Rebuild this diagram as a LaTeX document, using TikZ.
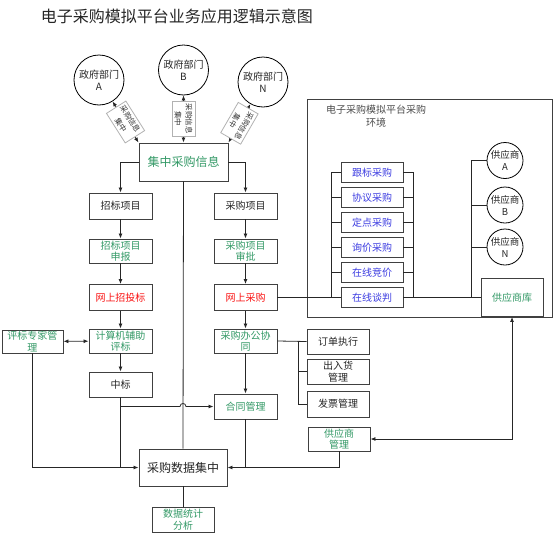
\documentclass[tikz,border=0pt]{standalone}
\usepackage{fontspec}
\setmainfont{Noto Sans CJK SC}
\usetikzlibrary{arrows.meta}
\definecolor{tgreen}{RGB}{51,153,102}
\definecolor{tred}{RGB}{250,20,20}
\definecolor{tblue}{RGB}{60,60,225}
\definecolor{bord}{RGB}{64,64,64}
\begin{document}
\begin{tikzpicture}[x=1pt,y=-1pt,
  box/.style={draw=bord, line width=0.95pt, fill=white, minimum width=63pt, minimum height=25pt, inner sep=1pt, align=center, font=\fontsize{10}{11.5}\selectfont, text=black!85},
  gbox/.style={box, text=tgreen},
  rbox/.style={box, text=tred},
  lbox/.style={box, text=tblue, minimum height=20pt, minimum width=62pt},
  circ/.style={circle, draw=black, line width=0.8pt, fill=white, minimum size=50pt, inner sep=0pt, align=center, font=\fontsize{10}{12}\selectfont, text=black!85},
  scirc/.style={circ, minimum size=36pt, font=\fontsize{9.5}{12}\selectfont},
  lab/.style={draw=black!30, fill=white, font=\fontsize{7.5}{11}\selectfont, inner sep=2.5pt, align=center, text=black!80},
  conn/.style={draw=black!85, line width=0.8pt},
  arr/.style={conn, -{Latex[length=5pt,width=4pt]}},
  darr/.style={conn, {Latex[length=5pt,width=4pt]}-{Latex[length=5pt,width=4pt]}},
]
\useasboundingbox (0,0) rectangle (555,536);

% title
\node[font=\fontsize{16}{17}\selectfont, text=black!85] (title) at (177,16) {电子采购模拟平台业务应用逻辑示意图};

% right panel
\node[draw=bord, line width=0.9pt, minimum width=245pt, minimum height=218pt, inner sep=0pt] (env) at (429.5,208) {};
\node[font=\fontsize{10}{13}\selectfont, text=black!70, align=center] (envt) at (376,116) {电子采购模拟平台采购\\环境};

% government circles
\node[circ] (gA) at (99,80) {政府部门\\A};
\node[circ] (gB) at (183.5,70) {政府部门\\B};
\node[circ] (gN) at (263,82) {政府部门\\N};

% main boxes
\node[box, minimum width=89pt, minimum height=38pt, font=\fontsize{12}{14}\selectfont, text=tgreen] (jz) at (183.5,162) {集中采购信息};
\node[box, minimum height=26pt] (zbxm) at (120.5,206) {招标项目};
\node[box, minimum height=26pt] (cgxm) at (245.5,206) {采购项目};
\node[gbox, minimum height=24pt] (zbsb) at (120.5,251) {招标项目\\申报};
\node[gbox, minimum height=24pt] (cgsp) at (245.5,251) {采购项目\\审批};
\node[rbox, minimum height=26pt] (wszb) at (120.5,297.5) {网上招投标};
\node[rbox, minimum height=26pt] (wscg) at (245.5,297.5) {网上采购};
\node[gbox, minimum height=24pt] (jsj) at (120.5,341) {计算机辅助\\评标};
\node[gbox, minimum height=24pt] (bgxt) at (245.5,341) {采购办公协\\同};
\node[gbox, minimum width=61pt, minimum height=23pt] (pbzj) at (32.5,341.5) {评标专家管\\理};
\node[box] (zhb) at (120.5,384.5) {中标};
\node[gbox] (hetong) at (245.5,406.5) {合同管理};
\node[box, minimum width=88pt, minimum height=37pt, font=\fontsize{12}{14}\selectfont] (sj) at (183,467.5) {采购数据集中};
\node[gbox, minimum width=62pt] (tj) at (183,519.5) {数据统计\\分析};
\node[box, minimum width=62pt] (ddzx) at (338,341.5) {订单执行};
\node[box, minimum width=62pt] (crh) at (338,371.5) {出入货\\管理};
\node[box, minimum width=62pt, minimum height=26pt] (fp) at (338,404) {发票管理};
\node[gbox, minimum width=62pt, minimum height=24pt] (gm) at (339,439) {供应商\\管理};

% list in panel
\node[lbox] (l1) at (372,172.5) {跟标采购};
\node[lbox] (l2) at (372,197.5) {协议采购};
\node[lbox] (l3) at (372,222.5) {定点采购};
\node[lbox] (l4) at (372,247.5) {询价采购};
\node[lbox] (l5) at (372,272.5) {在线竞价};
\node[lbox] (l6) at (372,297.5) {在线谈判};
\node[scirc] (sA) at (505,160.5) {供应商\\A};
\node[scirc] (sB) at (505,205) {供应商\\B};
\node[scirc] (sN) at (505,247) {供应商\\N};
\node[gbox, minimum width=62pt, minimum height=38pt] (gysk) at (512,297.5) {供应商库};

% gov connectors
\draw[darr] (gA) -- (jz.north west) node[lab, midway, rotate=-57.6] {采购信息\\集中};
\draw[darr] (gB) -- (jz.north) node[lab, midway, rotate=-90] {采购信息\\集中};
\draw[darr] (gN) -- (jz.north east) node[lab, midway, rotate=-120] {采购信息\\集中};

% main flow
\draw[arr] (jz.west) -| (zbxm.north);
\draw[arr] (jz.east) -| (cgxm.north);
\draw[arr] (zbxm) -- (zbsb);
\draw[arr] (zbsb) -- (wszb);
\draw[arr] (wszb) -- (jsj);
\draw[arr] (jsj) -- (zhb);
\draw[arr] (cgxm) -- (cgsp);
\draw[arr] (cgsp) -- (wscg);
\draw[arr] (wscg) -- (bgxt);
\draw[arr] (bgxt) -- (hetong);
\draw[darr] (pbzj) -- (jsj);

% zhongbiao to hetong with hop over the centre line
\coordinate (hop) at (183,406.5);
\draw[arr] (zhb.south) |- ([xshift=-3pt]hop) .. controls ([xshift=-3pt,yshift=4pt]hop) and ([xshift=3pt,yshift=4pt]hop) .. ([xshift=3pt]hop) -- (hetong.west);
\draw[conn] (jz.south) -- (sj.north);

% into data centre
\draw[arr] (pbzj.south) |- (sj.west);
\draw[conn] (zhb.south) -- (zhb.south |- sj.west);
\draw[arr] (gm.south) |- (sj.east);
\draw[conn] (hetong.south) -- (hetong.south |- sj.east);
\draw[conn] (sj) -- (tj);

% office coordination bracket
\coordinate (ob) at (298,341.5);
\draw[conn] (bgxt.east) -- (ddzx.west);
\draw[conn] (ob) |- (fp.west);
\draw[conn] (crh.west) -- (crh.west -| ob);

% supplier management
\draw[darr] (gysk.south) |- (gm.east);

% panel connections
\draw[conn] (wscg.east) -- (l6.west);
\coordinate (lb) at (331,172.5);
\coordinate (rb) at (413,172.5);
\draw[conn] (l1.west) -- (lb) -- (lb |- l6.west);
\draw[conn] (l1.east) -- (rb) -- (rb |- l6.east);
\foreach \i in {2,3,4,5} {
  \draw[conn] (l\i.west) -- (l\i.west -| lb);
  \draw[conn] (l\i.east) -- (l\i.east -| rb);
}
\draw[conn] (l6.east) -- (gysk.west);
\coordinate (sbk) at (471,297.5);
\draw[conn] (sbk) |- (sA.west);
\draw[conn] (sB.west) -- (sB.west -| sbk);
\draw[conn] (sN.west) -- (sN.west -| sbk);
\end{tikzpicture}
\end{document}
